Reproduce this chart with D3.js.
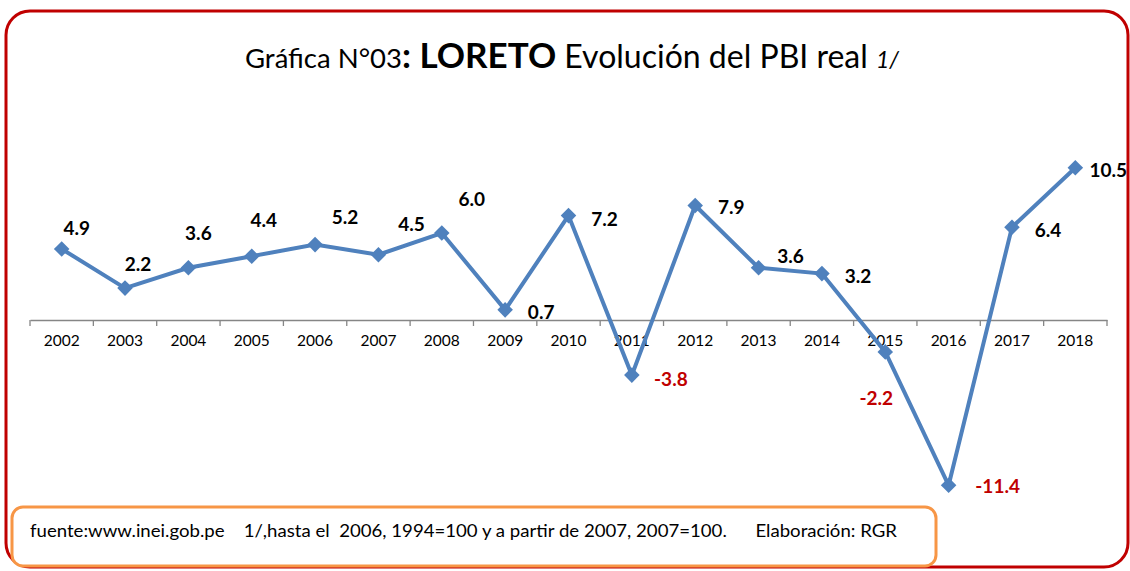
<!DOCTYPE html>
<html><head><meta charset="utf-8">
<script src="https://cdn.jsdelivr.net/npm/d3@7"></script>
<style>
html,body{margin:0;padding:0;background:#fff;}
svg{display:block;font-family:Lato,"Open Sans",sans-serif;}
</style></head>
<body><svg id="c" width="1130" height="571"></svg>
<script>
const years = ["2002","2003","2004","2005","2006","2007","2008","2009","2010","2011","2012","2013","2014","2015","2016","2017","2018"];
const values = [4.9,2.2,3.6,4.4,5.2,4.5,6.0,0.7,7.2,-3.8,7.9,3.6,3.2,-2.2,-11.4,6.4,10.5];
const labelOffsets = [[15,-21],[13,-24],[10,-35],[12,-36],[30,-28],[33,-31],[30,-34],[36,2],[36,3],[39,4],[36,2],[32,-12],[36,2],[-9,46],[49,1],[36,3],[33,2]];

const svg = d3.select("#c");
svg.append("rect").attr("x",6).attr("y",11).attr("width",1122).attr("height",556).attr("rx",24)
  .attr("fill","#fff").attr("stroke","#c00000").attr("stroke-width",3);

const x = d3.scaleBand().domain(years).range([30,1107]);
const y = d3.scaleLinear().domain([-12,12]).range([494,146]);

const title = svg.append("text").attr("x",572).attr("y",68).attr("text-anchor","middle").attr("fill","#000");
title.append("tspan").attr("font-size",27.5).text("Gráfica N°03");
title.append("tspan").attr("font-size",35).attr("font-weight","bold").text(": LORETO");
title.append("tspan").attr("font-size",32).text(" Evolución del PBI real ");
title.append("tspan").attr("font-size",23).attr("font-style","italic").text("1/");

const axis = d3.axisBottom(x).tickSize(0).tickPadding(15);
const gx = svg.append("g").attr("transform",`translate(0,${y(0)})`).call(axis);
gx.select(".domain").attr("stroke","#868686").attr("stroke-width",1.3);
gx.selectAll(".tick text").attr("font-size",15.5).attr("fill","#000").attr("font-family","Lato,sans-serif");
const bounds = years.map(d=>x(d)).concat([x.range()[1]]);
gx.selectAll(".bt").data(bounds).enter().append("line")
  .attr("x1",d=>d).attr("x2",d=>d).attr("y1",0).attr("y2",6).attr("stroke","#868686").attr("stroke-width",1.3);

const cx = (d,i)=>x(years[i])+x.bandwidth()/2;
const line = d3.line().x((d,i)=>cx(d,i)).y(d=>y(d));
svg.append("path").datum(values).attr("d",line).attr("fill","none")
  .attr("stroke","#4f81bd").attr("stroke-width",4).attr("stroke-linejoin","miter");
svg.selectAll(".mk").data(values).enter().append("rect")
  .attr("x",-5.5).attr("y",-5.5).attr("width",11).attr("height",11)
  .attr("transform",(d,i)=>`translate(${cx(d,i)},${y(d)}) rotate(45)`)
  .attr("fill","#4f81bd");

svg.selectAll(".lb").data(values).enter().append("text")
  .attr("x",(d,i)=>cx(d,i)+labelOffsets[i][0]).attr("y",(d,i)=>y(d)+labelOffsets[i][1]+7)
  .attr("text-anchor","middle").attr("font-size",19).attr("font-weight","bold")
  .attr("fill",d=>d<0?"#c00000":"#000").text(d=>d.toFixed(1));

svg.append("rect").attr("x",12).attr("y",507).attr("width",924).attr("height",59).attr("rx",11)
  .attr("fill","#fff").attr("stroke","#f79646").attr("stroke-width",3);
svg.append("text").attr("x",30).attr("y",537).attr("font-size",18).attr("fill","#000")
  .style("white-space","pre").attr("textLength",867).attr("lengthAdjust","spacingAndGlyphs")
  .text("fuente:www.inei.gob.pe    1/,hasta el  2006, 1994=100 y a partir de 2007, 2007=100.      Elaboración: RGR");
</script></body></html>
